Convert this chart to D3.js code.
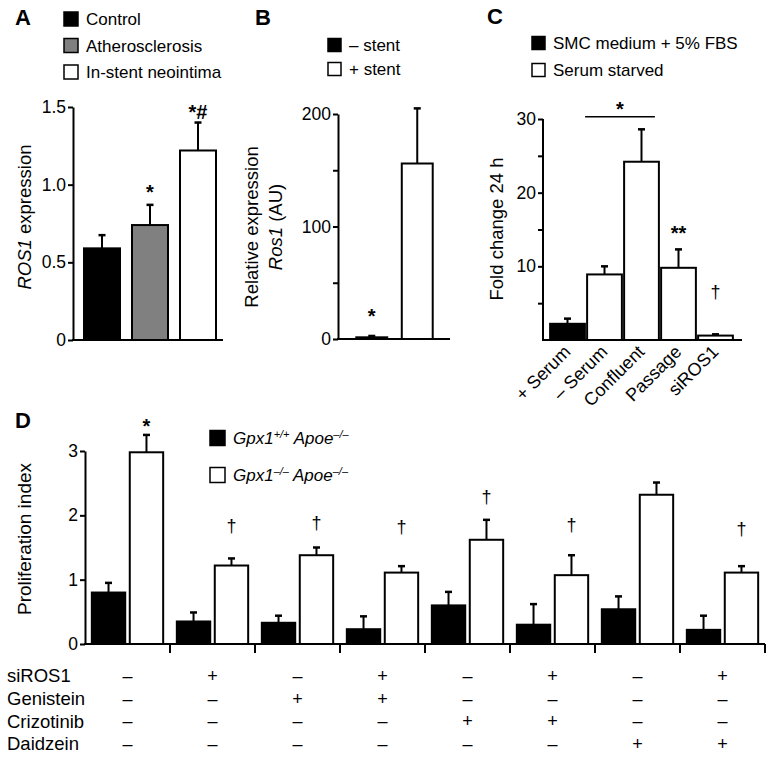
<!DOCTYPE html>
<html>
<head>
<meta charset="utf-8">
<script src="https://cdn.jsdelivr.net/npm/d3@7"></script>
<style>
  body { margin: 0; background: #fff; }
  svg { display: block; font-family: "Liberation Sans", Arial, Helvetica, sans-serif; }
</style>
</head>
<body>
<div id="fig"></div>
<script>
// ---- data ----
// panel A
const a_groups = ["Control", "Atherosclerosis", "In-stent neointima"];
const a_values = [0.59, 0.74, 1.22];
const a_errors = [0.085, 0.13, 0.18];
const a_ticks = [0, 0.5, 1.0, 1.5];
const a_marks = ["", "*", "*#"];
const a_mark_at = [null, 0.97, 1.49];

// panel B
const b_groups = ["\u2013 stent", "+ stent"];
const b_values = [1.5, 156];
const b_errors = [1.2, 49];
const b_ticks = [0, 50, 100, 150, 200];
const b_marks = ["*", ""];
const b_mark_at = [23, null];

// panel C
const c_legend = ["SMC medium + 5% FBS", "Serum starved"];
const c_groups = ["+ Serum", "\u2013 Serum", "Confluent", "Passage", "siROS1"];
const c_values = [2.2, 8.9, 24.2, 9.8, 0.6];
const c_errors = [0.7, 1.1, 4.4, 2.5, 0.17];
const c_series = [0, 1, 1, 1, 1];   // 0 = + serum, 1 = serum starved
const c_ticks = [5, 10, 15, 20, 25, 30];
const c_marks = ["", "", "", "**", "\u2020"];
const c_mark_at = [null, null, null, 15, 6.5];

// panel D
const d_groups = ["g1", "g2", "g3", "g4", "g5", "g6", "g7", "g8"];
const d_wt = [0.80, 0.35, 0.33, 0.23, 0.60, 0.30, 0.54, 0.22];
const d_wt_err = [0.15, 0.14, 0.11, 0.20, 0.21, 0.32, 0.20, 0.22];
const d_ko = [2.98, 1.22, 1.38, 1.11, 1.62, 1.07, 2.32, 1.11];
const d_ko_err = [0.27, 0.11, 0.12, 0.10, 0.31, 0.31, 0.19, 0.10];
const d_marks = ["*", "\u2020", "\u2020", "\u2020", "\u2020", "\u2020", "", "\u2020"];
const d_mark_at = [3.44, 1.84, 1.88, 1.82, 2.29, 1.85, null, 1.80];
const d_ticks = [0, 1, 2, 3];
const d_rows = ["siROS1", "Genistein", "Crizotinib", "Daidzein"];
const d_siROS1     = ["-", "+", "-", "+", "-", "+", "-", "+"];
const d_genistein  = ["-", "-", "+", "+", "-", "-", "-", "-"];
const d_crizotinib = ["-", "-", "-", "-", "+", "+", "-", "-"];
const d_daidzein   = ["-", "-", "-", "-", "-", "-", "+", "+"];

// ---- drawing ----
const W = 775, H = 757;
const svg = d3.select("#fig").append("svg").attr("width", W).attr("height", H);
const tick_font = 17.5, label_font = 18.5, legend_font = 17;

function panel_letter(txt, x, y) {
    svg.append("text").attr("x", x).attr("y", y).text(txt)
        .style("font-size", "22px").style("font-weight", "bold");
}

function legend_item(x, y, fill, size, parts) {
    svg.append("rect").attr("x", x).attr("y", y - size / 2).attr("width", size).attr("height", size)
        .attr("fill", fill).attr("stroke", "#000").attr("stroke-width", 1.5);
    const t = svg.append("text").attr("x", x + size + 8).attr("y", y).attr("dy", "0.36em")
        .style("font-size", legend_font + "px");
    parts.forEach(p => {
        const s = t.append("tspan").text(p.t);
        if (p.it) s.style("font-style", "italic");
        if (p.sup) s.style("font-size", "11px").attr("baseline-shift", "super");
    });
}

function y_axis(g, y, ticks, fmt) {
    const ax = d3.axisLeft(y).tickValues(ticks).tickSize(5).tickSizeOuter(0).tickPadding(2).tickFormat(fmt);
    const a = g.append("g").call(ax);
    a.select(".domain").attr("stroke-width", 2);
    a.selectAll(".tick line").attr("stroke-width", 2);
    a.selectAll(".tick text").style("font-size", tick_font + "px").attr("fill", "#000")
        .style("font-family", "inherit");
    return a;
}

function err_bars(g, xs, tops, errs, y) {
    tops.forEach((v, i) => {
        const x = xs[i];
        g.append("line").attr("x1", x).attr("x2", x).attr("y1", y(v)).attr("y2", y(v + errs[i]))
            .attr("stroke", "#000").attr("stroke-width", 2);
        g.append("line").attr("x1", x - 3.5).attr("x2", x + 3.5).attr("y1", y(v + errs[i])).attr("y2", y(v + errs[i]))
            .attr("stroke", "#000").attr("stroke-width", 2.5);
    });
}

function marks(g, xs, txt, at, y) {
    txt.forEach((m, i) => {
        if (!m) return;
        const dagger = m === "\u2020";
        g.append("text").attr("x", xs[i]).attr("y", y(at[i])).attr("dy", dagger ? "0.35em" : "0.5em")
            .attr("text-anchor", "middle").text(m)
            .style("font-size", dagger ? "18px" : "20px").style("font-weight", dagger ? "normal" : "bold");
    });
}

function baseline(g, x0, x1, y0) {
    g.append("line").attr("x1", x0).attr("x2", x1).attr("y1", y0).attr("y2", y0)
        .attr("stroke", "#000").attr("stroke-width", 2);
}

// ----- panel A -----
(function () {
    const g = svg.append("g");
    const y = d3.scaleLinear().domain([0, 1.5]).range([340, 107]);
    const x = d3.scaleBand().domain(a_groups).range([72, 228]).paddingInner(0.25).paddingOuter(0.25);
    const fills = ["#000", "#808080", "#fff"];
    panel_letter("A", 15, 25);
    a_groups.forEach((d, i) => legend_item(64, 19 + i * 26.5, fills[i], 14, [{ t: d }]));

    g.selectAll("rect.bar").data(a_values).join("rect").attr("class", "bar")
        .attr("x", (d, i) => x(a_groups[i])).attr("width", x.bandwidth())
        .attr("y", d => y(d)).attr("height", d => y(0) - y(d))
        .attr("fill", (d, i) => fills[i]).attr("stroke", "#000").attr("stroke-width", 2);
    const cx = a_groups.map(d => x(d) + x.bandwidth() / 2);
    err_bars(g, cx, a_values, a_errors, y);
    marks(g, cx, a_marks, a_mark_at, y);
    const ga = svg.append("g").attr("transform", "translate(73,0)");
    y_axis(ga, y, a_ticks, d => d === 0 ? "0" : d3.format(".1f")(d));
    baseline(svg, 72, 223, y(0));
    const t = svg.append("text").attr("transform", "translate(31,217) rotate(-90)")
        .attr("text-anchor", "middle").style("font-size", label_font + "px");
    t.append("tspan").text("ROS1").style("font-style", "italic");
    t.append("tspan").text(" expression");
})();

// ----- panel B -----
(function () {
    const g = svg.append("g");
    const y = d3.scaleLinear().domain([0, 200]).range([339, 114]);
    const x = d3.scaleBand().domain(b_groups).range([339, 450]).paddingInner(0.32).paddingOuter(0.38);
    const fills = ["#000", "#fff"];
    panel_letter("B", 255, 25);
    b_groups.forEach((d, i) => legend_item(328, 45 + i * 24, fills[i], 13, [{ t: d }]));

    g.selectAll("rect.bar").data(b_values).join("rect").attr("class", "bar")
        .attr("x", (d, i) => x(b_groups[i])).attr("width", x.bandwidth())
        .attr("y", d => y(d)).attr("height", d => y(0) - y(d))
        .attr("fill", (d, i) => fills[i]).attr("stroke", "#000").attr("stroke-width", 2);
    const cx = b_groups.map(d => x(d) + x.bandwidth() / 2);
    err_bars(g, cx, b_values, b_errors, y);
    marks(g, cx, b_marks, b_mark_at, y);
    const ga = svg.append("g").attr("transform", "translate(338,0)");
    y_axis(ga, y, b_ticks, d => d % 100 === 0 ? d : "");
    baseline(svg, 337, 450, y(0));
    svg.append("text").attr("transform", "translate(258,227) rotate(-90)")
        .attr("text-anchor", "middle").style("font-size", label_font + "px").text("Relative expression");
    const t2 = svg.append("text").attr("transform", "translate(282,227) rotate(-90)")
        .attr("text-anchor", "middle").style("font-size", label_font + "px");
    t2.append("tspan").text("Ros1").style("font-style", "italic");
    t2.append("tspan").text(" (AU)");
})();

// ----- panel C -----
(function () {
    const g = svg.append("g");
    const y = d3.scaleLinear().domain([0, 30]).range([340, 119]);
    const x = d3.scaleBand().domain(c_groups).range([549, 734]).paddingInner(0.06).paddingOuter(0.03);
    const fills = ["#000", "#fff"];
    panel_letter("C", 487, 24);
    c_legend.forEach((d, i) => legend_item(532, 43 + i * 27, fills[i], 13, [{ t: d }]));

    g.selectAll("rect.bar").data(c_values).join("rect").attr("class", "bar")
        .attr("x", (d, i) => x(c_groups[i])).attr("width", x.bandwidth())
        .attr("y", d => y(d)).attr("height", d => y(0) - y(d))
        .attr("fill", (d, i) => fills[c_series[i]]).attr("stroke", "#000").attr("stroke-width", 2);
    const cx = c_groups.map(d => x(d) + x.bandwidth() / 2);
    err_bars(g, cx, c_values, c_errors, y);
    marks(g, cx, c_marks, c_mark_at, y);
    const ga = svg.append("g").attr("transform", "translate(543,0)");
    y_axis(ga, y, c_ticks, d => d % 10 === 0 ? d : "");
    ga.select(".domain").attr("d", "M0," + y(30) + "V" + y(0));
    baseline(svg, 542, 742, y(0));

    // significance bar between - serum and confluent
    const sx0 = x(c_groups[1]) - 2, sx1 = x(c_groups[2]) + x.bandwidth() - 4;
    g.append("line").attr("x1", sx0).attr("x2", sx1).attr("y1", y(30.3)).attr("y2", y(30.3))
        .attr("stroke", "#000").attr("stroke-width", 1.5);
    g.append("text").attr("x", (sx0 + sx1) / 2).attr("y", y(31.8)).attr("dy", "0.5em")
        .attr("text-anchor", "middle").style("font-size", "20px").style("font-weight", "bold").text("*");

    c_groups.forEach((d, i) => {
        svg.append("text").attr("text-anchor", "end")
            .attr("transform", `translate(${cx[i] + 4},${y(0) + 13}) rotate(-45)`)
            .style("font-size", "18px").text(d);
    });
    svg.append("text").attr("transform", "translate(503,229) rotate(-90)")
        .attr("text-anchor", "middle").style("font-size", label_font + "px").text("Fold change 24 h");
})();

// ----- panel D -----
(function () {
    const g = svg.append("g");
    const y = d3.scaleLinear().domain([0, 3]).range([644, 451]);
    const x = d3.scaleBand().domain(d_groups).range([85, 765]);
    const xs = d3.scaleBand().domain(["wt", "ko"]).range([0, x.bandwidth()]).paddingInner(0.12).paddingOuter(0.18);
    panel_letter("D", 15, 428);
    legend_item(210, 438, "#000", 15, [{ t: "Gpx1", it: 1 }, { t: "+/+", it: 1, sup: 1 }, { t: " Apoe", it: 1 }, { t: "\u2013/\u2013", it: 1, sup: 1 }]);
    legend_item(210, 475, "#fff", 15, [{ t: "Gpx1", it: 1 }, { t: "\u2013/\u2013", it: 1, sup: 1 }, { t: " Apoe", it: 1 }, { t: "\u2013/\u2013", it: 1, sup: 1 }]);

    const series = [
        { key: "wt", vals: d_wt, errs: d_wt_err, fill: "#000" },
        { key: "ko", vals: d_ko, errs: d_ko_err, fill: "#fff" }
    ];
    series.forEach(s => {
        g.selectAll("rect.b" + s.key).data(s.vals).join("rect").attr("class", "b" + s.key)
            .attr("x", (d, i) => x(d_groups[i]) + xs(s.key)).attr("width", xs.bandwidth())
            .attr("y", d => y(d)).attr("height", d => y(0) - y(d))
            .attr("fill", s.fill).attr("stroke", "#000").attr("stroke-width", 2);
        const cx = d_groups.map(d => x(d) + xs(s.key) + xs.bandwidth() / 2);
        err_bars(g, cx, s.vals, s.errs, y);
        if (s.key === "ko") marks(g, cx, d_marks, d_mark_at, y);
    });

    const ga = svg.append("g").attr("transform", "translate(85,0)");
    y_axis(ga, y, d_ticks, d => d);
    baseline(svg, 84, 765, y(0));
    // group separators below the baseline
    x.domain().slice(1).map(d => x(d)).concat([x.range()[1]]).forEach(xx => {
        svg.append("line").attr("x1", xx).attr("x2", xx).attr("y1", y(0)).attr("y2", y(0) + 9)
            .attr("stroke", "#000").attr("stroke-width", 2);
    });
    svg.append("text").attr("transform", "translate(31,539) rotate(-90)")
        .attr("text-anchor", "middle").style("font-size", "19px").text("Proliferation index");

    // treatment table
    const table = [d_siROS1, d_genistein, d_crizotinib, d_daidzein];
    const rowY = d3.scalePoint().domain(d_rows).range([676, 744]);
    d_rows.forEach((r, ri) => {
        svg.append("text").attr("x", 7).attr("y", rowY(r)).attr("dy", "0.34em")
            .style("font-size", "18.5px").text(r);
        table[ri].forEach((v, gi) => {
            svg.append("text").attr("x", x(d_groups[gi]) + x.bandwidth() / 2).attr("y", rowY(r))
                .attr("dy", "0.34em").attr("text-anchor", "middle")
                .style("font-size", "18px").text(v === "+" ? "+" : "\u2013");
        });
    });
})();
</script>
</body>
</html>
